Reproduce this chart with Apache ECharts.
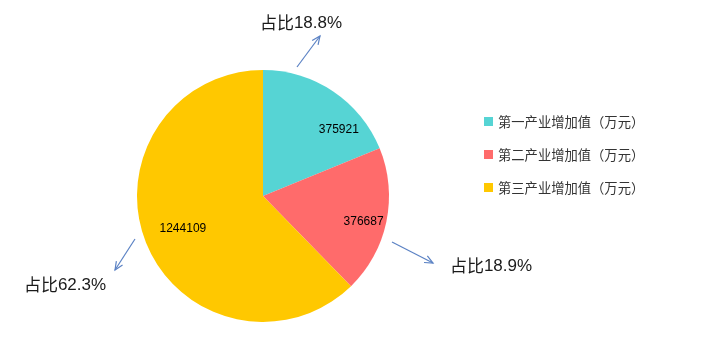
<!DOCTYPE html>
<html><head><meta charset="utf-8">
<script src="https://cdn.jsdelivr.net/npm/echarts@6/dist/echarts.min.js"></script>
<style>html,body{margin:0;padding:0;background:#fff}#c{width:704px;height:361px}</style>
</head><body><div id="c"></div>
<script>
const categories = ['第一产业增加值（万元）', '第二产业增加值（万元）', '第三产业增加值（万元）'];
const values = [375921, 376687, 1244109];
const colors = ['#56D4D4', '#FF6B6B', '#FFC800'];

const total = values.reduce((a, b) => a + b, 0);
const shares = values.map(v => (v / total * 100).toFixed(1) + '%');

// label nudges from the default "inside" spot (Excel best-fit look)
const labelOffsets = [[39, -12], [36, 12], [-19, 8]];
// annotation placement: text centre + arrow (from -> to)
const notes = [
  { text: [301, 23], arrow: [[297, 67], [320, 36]] },
  { text: [491, 266], arrow: [[392, 242], [433, 263]] },
  { text: [65, 285], arrow: [[135, 239], [115, 270]] }
];
const arrowColor = '#5B82C4';

function arrowGraphics(p0, p1) {
  const th = Math.atan2(p1[1] - p0[1], p1[0] - p0[0]);
  const L = 9, a = 0.42;
  const h1 = [p1[0] - L * Math.cos(th - a), p1[1] - L * Math.sin(th - a)];
  const h2 = [p1[0] - L * Math.cos(th + a), p1[1] - L * Math.sin(th + a)];
  return [
    { type: 'line', shape: { x1: p0[0], y1: p0[1], x2: p1[0], y2: p1[1] },
      style: { stroke: arrowColor, lineWidth: 1.2 }, silent: true },
    { type: 'polyline', shape: { points: [h1, p1, h2] },
      style: { stroke: arrowColor, lineWidth: 1.2, fill: null }, silent: true }
  ];
}

const graphics = [];
notes.forEach((n, i) => {
  graphics.push({
    type: 'text', x: n.text[0], y: n.text[1], silent: true,
    style: {
      text: '{a|占比}{b|' + shares[i] + '}',
      align: 'center', verticalAlign: 'middle',
      rich: {
        a: { fontFamily: 'Noto Sans CJK SC', fontSize: 17, fill: '#1a1a1a', color: '#1a1a1a' },
        b: { fontFamily: 'Liberation Sans', fontSize: 17, fill: '#1a1a1a', color: '#1a1a1a' }
      }
    }
  });
  graphics.push(...arrowGraphics(n.arrow[0], n.arrow[1]));
});

const chart = echarts.init(document.getElementById('c'), null, { renderer: 'canvas' });
chart.setOption({
  animation: false,
  backgroundColor: '#fff',
  color: colors,
  legend: {
    orient: 'vertical',
    left: 484, top: 114,
    padding: 0,
    itemWidth: 9, itemHeight: 9, itemGap: 18,
    icon: 'rect',
    data: categories,
    textStyle: { fontFamily: 'Noto Sans CJK SC', fontSize: 13.3, color: '#333', lineHeight: 15 },
    selectedMode: false
  },
  graphic: graphics,
  series: [{
    type: 'pie',
    center: [263, 196],
    radius: 126,
    startAngle: 90,
    clockwise: true,
    avoidLabelOverlap: false,
    label: {
      show: true, position: 'inside', formatter: '{c}',
      color: '#000', fontSize: 12, fontFamily: 'Liberation Sans'
    },
    labelLine: { show: false },
    labelLayout: p => ({ dx: labelOffsets[p.dataIndex][0], dy: labelOffsets[p.dataIndex][1] }),
    emphasis: { disabled: true },
    data: categories.map((c, i) => ({ name: c, value: values[i] }))
  }]
});
</script>
</body></html>
